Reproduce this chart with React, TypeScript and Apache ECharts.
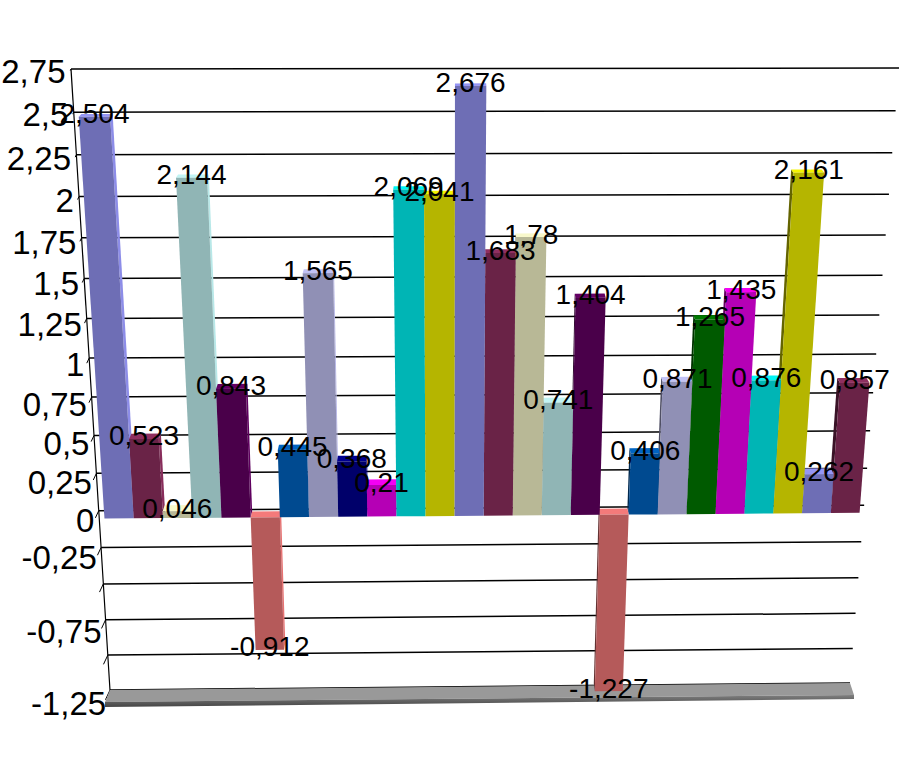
import React, { useEffect, useRef } from "react";
import * as echarts from "echarts";

const barValues = [2.504, 0.523, 0.046, 2.144, 0.843, -0.912, 0.445, 1.565, 0.368, 0.21, 2.069, 2.041, 2.676, 1.683, 1.78, 0.741, 1.404, -1.227, 0.406, 0.871, 1.265, 1.435, 0.876, 2.161, 0.262, 0.857];
const barLabels = ["2,504", "0,523", "0,046", "2,144", "0,843", "-0,912", "0,445", "1,565", "0,368", "0,21", "2,069", "2,041", "2,676", "1,683", "1,78", "0,741", "1,404", "-1,227", "0,406", "0,871", "1,265", "1,435", "0,876", "2,161", "0,262", "0,857"];
const barColors = ["#6e6eb5", "#6a2347", "#b8b896", "#90b5b5", "#4a004a", "#b55a5a", "#004a90", "#9090b5", "#00006a", "#b500b5", "#00b5b5", "#b5b500", "#6e6eb5", "#6a2347", "#b8b896", "#90b5b5", "#4a004a", "#b55a5a", "#004a90", "#9090b5", "#005a00", "#b500b5", "#00b5b5", "#b5b500", "#6e6eb5", "#6a2347"];
const tickValues = [2.75, 2.5, 2.25, 2, 1.75, 1.5, 1.25, 1, 0.75, 0.5, 0.25, 0, -0.25, -0.5, -0.75, -1, -1.25];
const tickLabels = ["2,75", "2,5", "2,25", "2", "1,75", "1,5", "1,25", "1", "0,75", "0,5", "0,25", "0", "-0,25", "", "-0,75", "", "-1,25"];

const W = 901;
const H = 764;
const FONT = '"Liberation Sans", Arial, sans-serif';
type P = [number, number];

function makeHomography(a: P, b: P, c: P, d: P) {
  // unit square (0,0)->a, (1,0)->b, (1,1)->c, (0,1)->d
  const dx1 = b[0] - c[0], dx2 = d[0] - c[0], sx = a[0] - b[0] + c[0] - d[0];
  const dy1 = b[1] - c[1], dy2 = d[1] - c[1], sy = a[1] - b[1] + c[1] - d[1];
  const den = dx1 * dy2 - dx2 * dy1;
  const g = (sx * dy2 - dx2 * sy) / den;
  const h = (dx1 * sy - sx * dy1) / den;
  const m = [b[0] - a[0] + g * b[0], d[0] - a[0] + h * d[0], a[0], b[1] - a[1] + g * b[1], d[1] - a[1] + h * d[1], a[1]];
  return (u: number, t: number): P => {
    const w = g * u + h * t + 1;
    return [(m[0] * u + m[1] * t + m[2]) / w, (m[3] * u + m[4] * t + m[5]) / w];
  };
}

const wall = makeHomography([71, 69], [899, 68], [850, 683], [110, 690]);
const front = makeHomography([76, 74], [893, 72], [846, 692], [116, 699]);
const CX = 456;

function shade(hex: string, f: number) {
  const n = parseInt(hex.slice(1), 16);
  const ch = (v: number) => Math.max(0, Math.min(255, Math.round(v * f)));
  return `rgb(${ch((n >> 16) & 255)},${ch((n >> 8) & 255)},${ch(n & 255)})`;
}

const unit = (api: any, x: number, v: number): P => {
  const p = api.coord([x, v]);
  return [p[0] / W, p[1] / H];
};
const centerIndex = 12;
const drawOrder = [
  ...barValues.map((_, i) => i).filter((i) => i < centerIndex),
  ...barValues.map((_, i) => i).filter((i) => i > centerIndex).reverse(),
  centerIndex,
];

export default function App() {
  const ref = useRef<HTMLDivElement>(null);
  useEffect(() => {
    document.body.style.margin = "0";
    const chart = echarts.init(ref.current!, undefined, { renderer: "svg", width: W, height: H });
    const frontAt = (api: any, x: number, v: number) => {
      const [u, t] = unit(api, x, v);
      return front(u, t);
    };
    const backOf = (p: P, v: number): P => [p[0] + (CX - p[0]) * 0.007, p[1] - (6 - 1.3 * v)];
    const poly = (pts: P[], fill: any) => ({ type: "polygon", shape: { points: pts }, style: { fill, stroke: null } });

    chart.setOption({
      animation: false,
      backgroundColor: "#ffffff",
      grid: { left: 0, top: 0, width: W, height: H, show: false },
      xAxis: { type: "value", min: 0, max: barValues.length, show: false },
      yAxis: { type: "value", min: -1.25, max: 2.75, interval: 0.25, show: false },
      series: [
        {
          type: "custom",
          name: "walls",
          coordinateSystem: "cartesian2d",
          clip: false,
          z: 1,
          data: tickValues.map((v, i) => [0, v, i]),
          renderItem: (_: any, api: any) => {
            const v = api.value(1);
            const [, t] = unit(api, 0, v);
            const a = wall(0, t);
            const b = wall(1, t);
            const dy = 2 + (2.75 - v) * 2.75;
            const children: any[] = [
              { type: "line", shape: { x1: a[0], y1: a[1], x2: b[0], y2: b[1] }, style: { stroke: "#000", lineWidth: 1.5 } },
              { type: "line", shape: { x1: a[0], y1: a[1], x2: a[0] - dy * 0.35, y2: a[1] + dy * 0.75 }, style: { stroke: "#000", lineWidth: 1 } },
            ];
            const label = tickLabels[api.value(2)];
            if (label) {
              children.push({
                type: "text",
                style: { text: label, x: a[0] - 5.5 + (2.75 - v) * 0.4, y: a[1] + dy, textAlign: "right", textVerticalAlign: "middle", font: `33px ${FONT}`, fill: "#000" },
              });
            }
            return { type: "group", children };
          },
        },
        {
          type: "custom",
          name: "axis and floor",
          coordinateSystem: "cartesian2d",
          clip: false,
          z: 2,
          data: [[0, -1.25]],
          renderItem: () => {
            const tl = wall(0, 0), bl = wall(0, 1), br = wall(1, 1);
            const fl: P = [bl[0] - 5, bl[1] + 12];
            const fr: P = [br[0] + 4, br[1] + 12];
            const dl: P = [fl[0], fl[1] + 5];
            const dr: P = [fr[0], fr[1] + 4];
            return {
              type: "group",
              children: [
                { type: "line", shape: { x1: tl[0], y1: tl[1], x2: bl[0], y2: bl[1] }, style: { stroke: "#000", lineWidth: 1.2 } },
                poly([bl, br, fr, fl], "#999999"),
                poly([fl, fr, dr, dl], new echarts.graphic.LinearGradient(0, 0, 0, 1, [{ offset: 0, color: "#808080" }, { offset: 1, color: "#444444" }])),
              ],
            };
          },
        },
        {
          type: "custom",
          name: "bars",
          coordinateSystem: "cartesian2d",
          clip: false,
          z: 3,
          data: drawOrder.map((i) => [i, barValues[i]]),
          renderItem: (_: any, api: any) => {
            const i = api.value(0);
            const v = api.value(1);
            const color = barColors[i];
            const top = Math.max(v, 0);
            const bot = Math.min(v, 0);
            const tl = frontAt(api, i, top), tr = frontAt(api, i + 1, top);
            const bl = frontAt(api, i, bot), br = frontAt(api, i + 1, bot);
            const btl = backOf(tl, top), btr = backOf(tr, top);
            const children: any[] = [];
            if (i < centerIndex) children.push(poly([tr, br, backOf(br, bot), btr], shade(color, 1.28)));
            if (i > centerIndex) children.push(poly([tl, bl, backOf(bl, bot), btl], shade(color, 0.55)));
            children.push(poly([btl, btr, tr, tl], shade(color, 1.35)));
            children.push(poly([tl, tr, br, bl], color));
            return { type: "group", children };
          },
        },
        {
          type: "custom",
          name: "labels",
          coordinateSystem: "cartesian2d",
          clip: false,
          z: 4,
          data: barValues.map((v, i) => [i, v]),
          renderItem: (_: any, api: any) => {
            const i = api.value(0);
            const v = api.value(1);
            const p = frontAt(api, i + 0.5, v);
            return {
              type: "text",
              style: { text: barLabels[i], x: p[0], y: p[1] - 3, textAlign: "center", textVerticalAlign: "middle", font: `28px ${FONT}`, fill: "#000" },
            };
          },
        },
      ],
    });
    return () => chart.dispose();
  }, []);
  return <div ref={ref} style={{ width: W, height: H }} />;
}
